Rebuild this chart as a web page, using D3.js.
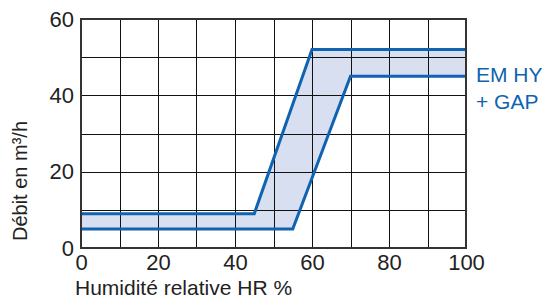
<!DOCTYPE html>
<html>
<head>
<meta charset="utf-8">
<script src="https://cdn.jsdelivr.net/npm/d3@7"></script>
<style>
  body { margin: 0; background: #fff; }
  text { font-family: "Liberation Sans", Arial, sans-serif; }
</style>
</head>
<body>
<div id="chart"></div>
<script>
'use strict';

// Data ==============================================
var upperX = [0, 45, 60, 100];
var upperY = [9, 9, 52, 52];
var lowerX = [0, 55, 70, 100];
var lowerY = [5, 5, 45, 45];
var xTicks = [0, 20, 40, 60, 80, 100];
var yTicks = [0, 20, 40, 60];
var seriesLabel = ['EM HY', '+ GAP'];

var width = 550, height = 300;
// plot box (don't call these top/left: window.top is read-only)
var plotL = 81, plotR = 466, plotT = 19, plotB = 248;

var svg = d3.select('#chart').append('svg')
  .attr('width', width)
  .attr('height', height);

var x = d3.scaleLinear().domain([0, 100]).range([plotL, plotR]);
var y = d3.scaleLinear().domain([0, 60]).range([plotB, plotT]);

var upper = upperX.map(function (d, i) { return [d, upperY[i]]; });
var lower = lowerX.map(function (d, i) { return [d, lowerY[i]]; });

var line = d3.line().x(function (d) { return x(d[0]); }).y(function (d) { return y(d[1]); });

// band between the two curves
var band = upper.concat(lower.slice().reverse());
svg.append('path')
  .attr('d', line(band) + 'Z')
  .attr('fill', '#d7dff0');

// grid every 10
var grid = svg.append('g');
d3.range(10, 100, 10).forEach(function (v) {
  grid.append('line')
    .attr('x1', Math.round(x(v)) + 0.5).attr('x2', Math.round(x(v)) + 0.5)
    .attr('y1', plotT).attr('y2', plotB)
    .attr('stroke', '#111').attr('stroke-width', 1);
});
d3.range(10, 60, 10).forEach(function (v) {
  grid.append('line')
    .attr('x1', plotL).attr('x2', plotR)
    .attr('y1', Math.round(y(v)) + 0.5).attr('y2', Math.round(y(v)) + 0.5)
    .attr('stroke', '#111').attr('stroke-width', 1);
});

// the two curves
[upper, lower].forEach(function (pts) {
  svg.append('path')
    .attr('d', line(pts))
    .attr('fill', 'none')
    .attr('stroke', '#0f63b0')
    .attr('stroke-width', 3)
    .attr('stroke-linejoin', 'miter');
});

// frame
svg.append('rect')
  .attr('x', plotL).attr('y', plotT)
  .attr('width', plotR - plotL).attr('height', plotB - plotT)
  .attr('fill', 'none')
  .attr('stroke', '#333')
  .attr('stroke-width', 2);

// axes (labels only)
var xAxis = svg.append('g')
  .attr('transform', 'translate(0,' + plotB + ')')
  .call(d3.axisBottom(x).tickValues(xTicks).tickSize(0).tickPadding(6));
var yAxis = svg.append('g')
  .attr('transform', 'translate(' + plotL + ',0)')
  .call(d3.axisLeft(y).tickValues(yTicks).tickSize(0).tickPadding(7));
[xAxis, yAxis].forEach(function (a) {
  a.select('.domain').remove();
  a.selectAll('text')
    .attr('font-family', '"Liberation Sans", Arial, sans-serif')
    .attr('font-size', 22)
    .attr('fill', '#222');
});

// titles
svg.append('text')
  .attr('x', 75).attr('y', 295)
  .attr('font-size', 21)
  .attr('fill', '#222')
  .text('Humidité relative HR %');

svg.append('text')
  .attr('transform', 'translate(27,181) rotate(-90)')
  .attr('text-anchor', 'middle')
  .attr('font-size', 20)
  .attr('fill', '#222')
  .text('Débit en m³/h');

// series label
seriesLabel.forEach(function (t, i) {
  svg.append('text')
    .attr('x', 476).attr('y', 82 + i * 27)
    .attr('font-size', 21)
    .attr('fill', '#0f63b0')
    .text(t);
});
</script>
</body>
</html>
